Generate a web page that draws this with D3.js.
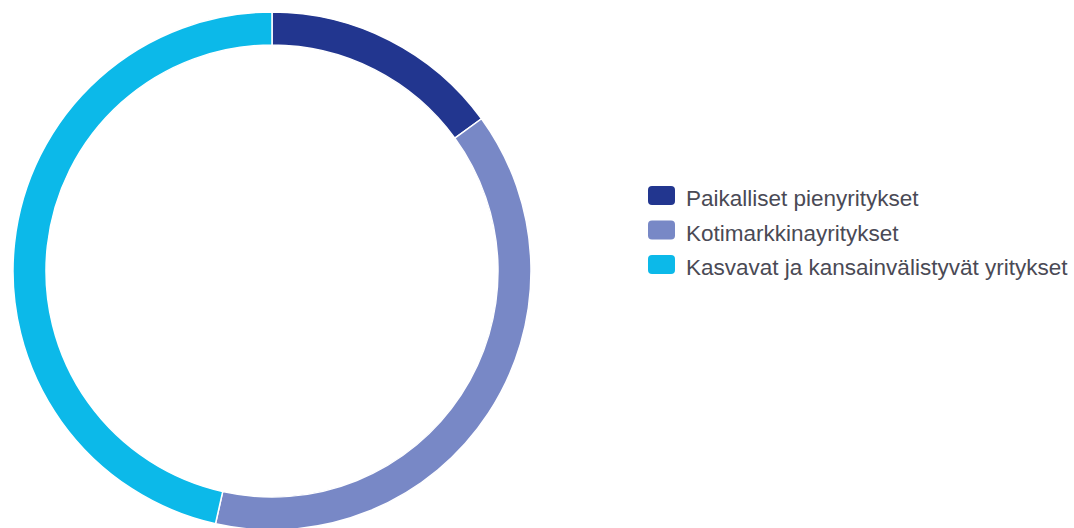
<!DOCTYPE html>
<html>
<head>
<meta charset="utf-8">
<script src="https://cdn.jsdelivr.net/npm/d3@7"></script>
<style>
  body { margin: 0; background: #fff; }
  text { font-family: "Liberation Sans", Arial, sans-serif; }
</style>
</head>
<body>
<svg id="chart"></svg>
<script>
var categories = ["Paikalliset pienyritykset", "Kotimarkkinayritykset", "Kasvavat ja kansainvälistyvät yritykset"];
var shares = [15, 38.5, 46.5];
var colors = ["#22368f", "#7888c6", "#0cb9e9"];

var width = 1074, height = 528;

var svg = d3.select("#chart")
    .attr("width", width)
    .attr("height", height);

var data = categories.map(function (c, i) {
    return {name: c, value: shares[i], color: colors[i]};
});

var pie = d3.pie()
    .sort(null)
    .value(function (d) { return d.value; });

var arc = d3.arc()
    .innerRadius(226)
    .outerRadius(259);

var ring = svg.append("g")
    .attr("transform", "translate(272,271)");

ring.selectAll("path")
    .data(pie(data))
    .enter().append("path")
    .attr("d", arc)
    .attr("fill", function (d) { return d.data.color; })
    .attr("stroke", "#fff")
    .attr("stroke-width", 1.5);

// legend
var legend = svg.append("g")
    .attr("transform", "translate(648,186)");

var item = legend.selectAll("g")
    .data(data)
    .enter().append("g")
    .attr("transform", function (d, i) { return "translate(0," + (i * 34.5) + ")"; });

item.append("rect")
    .attr("width", 27)
    .attr("height", 19)
    .attr("rx", 4)
    .attr("fill", function (d) { return d.color; });

item.append("text")
    .attr("x", 38)
    .attr("y", 20)
    .attr("font-size", 22.5)
    .attr("fill", "#4a4a55")
    .text(function (d) { return d.name; });
</script>
</body>
</html>
